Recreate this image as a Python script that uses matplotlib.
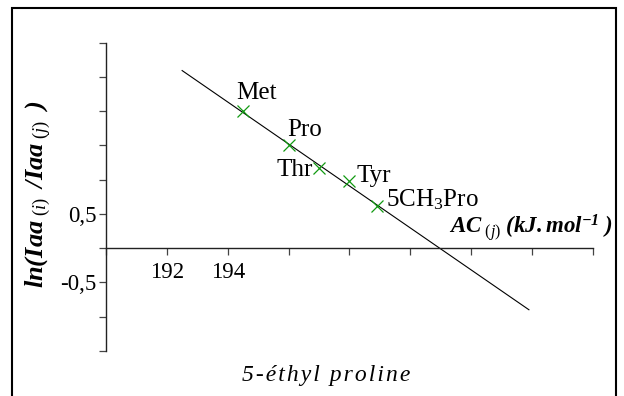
import numpy as np
import matplotlib
matplotlib.use('Agg')
import matplotlib.pyplot as plt
from matplotlib.patches import Rectangle

plt.rcParams['font.family'] = ['Liberation Serif', 'DejaVu Serif']
plt.rcParams['mathtext.fontset'] = 'custom'
plt.rcParams['mathtext.rm'] = 'Liberation Serif'
plt.rcParams['mathtext.it'] = 'Liberation Serif:italic'
plt.rcParams['mathtext.bf'] = 'Liberation Serif:bold'
plt.rcParams['mathtext.bfit'] = 'Liberation Serif:bold:italic'

# donnees
acides = ['Met', 'Pro', 'Thr', 'Tyr', '5CH$_3$Pro']
ac_j = [194.5, 196.0, 197.0, 198.0, 198.9]
ln_ratio = [2.0, 1.5, 1.17, 0.98, 0.61]
droite_x = [192.5, 203.9]
xticks = [190, 192, 194, 196, 198, 200, 202, 204, 206]
xtick_labels = ['', '192', '194', '', '', '', '', '', '']
yticks = [-1.5, -1.0, -0.5, 0.0, 0.5, 1.0, 1.5, 2.0, 2.5, 3.0]
ytick_labels = ['', '', '-0,5', '', '0,5', '', '', '', '', '']

fig = plt.figure(figsize=(6.24, 3.96), dpi=100)
ax = fig.add_axes([0.170, 0.1136, 0.780, 0.7786])

# droite de regression
a, b = np.polyfit(ac_j, ln_ratio, 1)
dx = np.array(droite_x)
ax.plot(dx, a * dx + b, color='black', lw=0.8)

ax.plot(ac_j, ln_ratio, 'x', color='#119911', ms=8, mew=0.9)

# decalage des etiquettes (pixels)
offs = [(-7, 12, 'left'), (-1, 9, 'left'), (-6, -8, 'right'), (7, -1, 'left'), (9, 0, 'left')]
for nom, x, y, (ox, oy, ha) in zip(acides, ac_j, ln_ratio, offs):
    ax.annotate(nom, (x, y), xytext=(ox, oy), textcoords='offset pixels',
                ha=ha, va='baseline', fontsize=18)

ax.set_xlim(190, 206)
ax.set_ylim(-1.5, 3.0)
ax.spines['top'].set_visible(False)
ax.spines['right'].set_visible(False)
ax.spines['bottom'].set_position(('data', 0))
for s in ['left', 'bottom']:
    ax.spines[s].set_linewidth(1.0)
    ax.spines[s].set_color('#222222')
ax.set_xticks(xticks)
ax.set_xticklabels(xtick_labels)
ax.set_yticks(yticks)
ax.set_yticklabels(ytick_labels)
ax.tick_params(axis='both', direction='out', length=5, width=0.9, color='#444444',
               labelsize=16.5, pad=2)
ax.tick_params(axis='x', pad=5)

fig.text(0.062, 0.51, r'$\mathbfit{ln(Iaa}_{\mathit{\ (i)\ }}\ \mathbfit{/Iaa}_{\mathit{\ (j)\ }}\ \mathbfit{)}$',
         rotation=90, ha='center', va='center', fontsize=19)
fig.text(0.983, 0.425, r'$\mathbfit{AC}_{\mathit{\ (j)}}\ \mathbfit{(kJ.mol}^{\mathbfit{-1}}\ \mathbfit{)}$',
         ha='right', va='center', fontsize=16.5)
fig.text(0.523, 0.053, '\u200a'.join('5-éthyl proline'), ha='center', va='center',
         fontsize=17, style='italic')

fig.patches.append(Rectangle((0.019, -0.05), 0.968, 1.03, transform=fig.transFigure,
                             fill=False, lw=1.5, ec='black', clip_on=False))

fig.savefig('out.png', dpi=100)
